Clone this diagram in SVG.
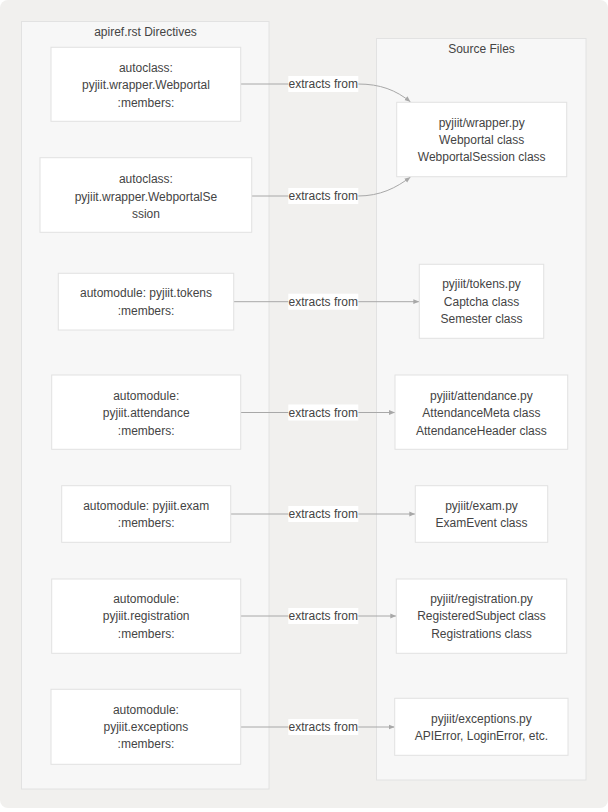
<svg xmlns="http://www.w3.org/2000/svg" width="608" height="812" viewBox="0 0 608 812">
<style>
.bg{fill:#f1f0ee;}
.cluster{fill:#f7f7f7;stroke:#e2e2e2;stroke-width:1;}
.node rect{fill:#ffffff;stroke:#e2e2e2;stroke-width:1;}
text{font-family:"Liberation Sans",Arial,Helvetica,sans-serif;font-size:12px;fill:#444444;text-anchor:middle;}
.edge{fill:none;stroke:#a8a8a8;stroke-width:1;}
.lbl rect{fill:#ffffff;}
</style>
<defs>
<marker id="arrow" viewBox="0 0 10 10" refX="10" refY="5" markerWidth="6" markerHeight="6" orient="auto" markerUnits="userSpaceOnUse">
<path d="M0,1 L10,5 L0,9 Z" fill="#a8a8a8"/>
</marker>
</defs>
<rect class="bg" x="0" y="0" width="608" height="808" rx="8"/>
<g id="cluster-directives">
<rect class="cluster" x="21.5" y="21.5" width="247.5" height="767.5"/>
<text x="145.5" y="36">apiref.rst Directives</text>
</g>
<g id="cluster-sources">
<rect class="cluster" x="376.5" y="38.5" width="209.5" height="741.5"/>
<text x="481.5" y="52.5">Source Files</text>
</g>
<g id="edges">
<path class="edge" d="M240.7,84 L358,84 C380,84 396,90 410.5,102" marker-end="url(#arrow)"/>
<path class="edge" d="M251.7,196 L358,196 C380,196 396,188 410.5,177" marker-end="url(#arrow)"/>
<path class="edge" d="M233.7,301.7 L419.3,301.7" marker-end="url(#arrow)"/>
<path class="edge" d="M240.7,412.5 L395,412.5" marker-end="url(#arrow)"/>
<path class="edge" d="M230.7,514 L415.3,514" marker-end="url(#arrow)"/>
<path class="edge" d="M240.7,616 L396.3,616" marker-end="url(#arrow)"/>
<path class="edge" d="M240.7,727 L394.7,727" marker-end="url(#arrow)"/>
<g class="lbl"><rect x="288.3" y="76" width="70" height="16"/><text x="323.3" y="88.3">extracts from</text></g>
<g class="lbl"><rect x="288.3" y="188" width="70" height="16"/><text x="323.3" y="200.3">extracts from</text></g>
<g class="lbl"><rect x="288.3" y="293.7" width="70" height="16"/><text x="323.3" y="306">extracts from</text></g>
<g class="lbl"><rect x="288.3" y="404.5" width="70" height="16"/><text x="323.3" y="416.8">extracts from</text></g>
<g class="lbl"><rect x="288.3" y="506" width="70" height="16"/><text x="323.3" y="518.3">extracts from</text></g>
<g class="lbl"><rect x="288.3" y="608" width="70" height="16"/><text x="323.3" y="620.3">extracts from</text></g>
<g class="lbl"><rect x="288.3" y="719" width="70" height="16"/><text x="323.3" y="731.3">extracts from</text></g>
</g>
<g id="node-autoclass-webportal" class="node">
<rect x="51" y="47.3" width="189.7" height="74"/>
<text x="145.9" y="72">autoclass:</text>
<text x="145.9" y="89.3">pyjiit.wrapper.Webportal</text>
<text x="145.9" y="106.6">:members:</text>
</g>
<g id="node-autoclass-session" class="node">
<rect x="40" y="157.7" width="211.7" height="74.6"/>
<text x="145.9" y="183.3">autoclass:</text>
<text x="145.9" y="200.6">pyjiit.wrapper.WebportalSe</text>
<text x="145.9" y="217.9">ssion</text>
</g>
<g id="node-automodule-tokens" class="node">
<rect x="58.3" y="273.3" width="175.4" height="56.7"/>
<text x="146" y="297.3">automodule: pyjiit.tokens</text>
<text x="146" y="314.6">:members:</text>
</g>
<g id="node-automodule-attendance" class="node">
<rect x="51.7" y="375" width="189" height="74.3"/>
<text x="146.2" y="399.9">automodule:</text>
<text x="146.2" y="417.2">pyjiit.attendance</text>
<text x="146.2" y="434.5">:members:</text>
</g>
<g id="node-automodule-exam" class="node">
<rect x="61.7" y="485.7" width="169" height="56.6"/>
<text x="146.2" y="509.6">automodule: pyjiit.exam</text>
<text x="146.2" y="526.9">:members:</text>
</g>
<g id="node-automodule-registration" class="node">
<rect x="51.7" y="579" width="189" height="74.3"/>
<text x="146.2" y="603.1">automodule:</text>
<text x="146.2" y="620.4">pyjiit.registration</text>
<text x="146.2" y="637.7">:members:</text>
</g>
<g id="node-automodule-exceptions" class="node">
<rect x="51" y="689.3" width="189.7" height="75"/>
<text x="145.9" y="713.8">automodule:</text>
<text x="145.9" y="731.1">pyjiit.exceptions</text>
<text x="145.9" y="748.4">:members:</text>
</g>
<g id="node-wrapper-py" class="node">
<rect x="396.7" y="102.3" width="170" height="74.4"/>
<text x="481.7" y="126.5">pyjiit/wrapper.py</text>
<text x="481.7" y="143.8">Webportal class</text>
<text x="481.7" y="161.1">WebportalSession class</text>
</g>
<g id="node-tokens-py" class="node">
<rect x="419.3" y="264.3" width="124.4" height="74"/>
<text x="481.5" y="288.3">pyjiit/tokens.py</text>
<text x="481.5" y="305.6">Captcha class</text>
<text x="481.5" y="322.9">Semester class</text>
</g>
<g id="node-attendance-py" class="node">
<rect x="395" y="375" width="172.7" height="74.3"/>
<text x="481.4" y="399.9">pyjiit/attendance.py</text>
<text x="481.4" y="417.2">AttendanceMeta class</text>
<text x="481.4" y="434.5">AttendanceHeader class</text>
</g>
<g id="node-exam-py" class="node">
<rect x="415.3" y="485.7" width="132.4" height="56.6"/>
<text x="481.5" y="509.6">pyjiit/exam.py</text>
<text x="481.5" y="526.9">ExamEvent class</text>
</g>
<g id="node-registration-py" class="node">
<rect x="396.3" y="579" width="170.4" height="74.3"/>
<text x="481.5" y="603.1">pyjiit/registration.py</text>
<text x="481.5" y="620.4">RegisteredSubject class</text>
<text x="481.5" y="637.7">Registrations class</text>
</g>
<g id="node-exceptions-py" class="node">
<rect x="394.7" y="698.3" width="173.3" height="57"/>
<text x="481.4" y="722.5">pyjiit/exceptions.py</text>
<text x="481.4" y="739.8">APIError, LoginError, etc.</text>
</g>
</svg>
